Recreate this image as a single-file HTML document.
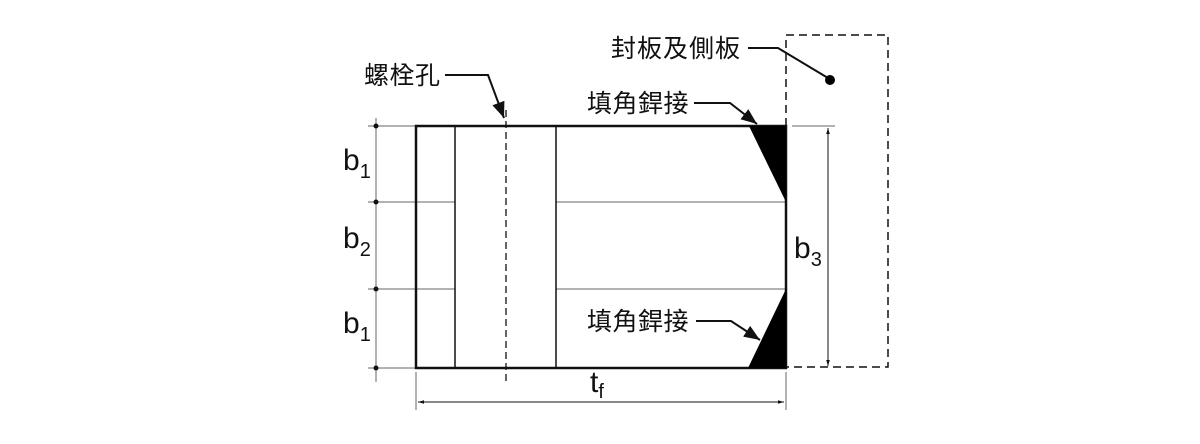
<!DOCTYPE html>
<html><head><meta charset="utf-8"><style>
body{margin:0;background:#fff}
svg{display:block}
text{font-family:"Liberation Sans","Noto Sans CJK TC",sans-serif;fill:#111}
</style></head><body>
<svg width="1200" height="444" viewBox="0 0 1200 444" xmlns="http://www.w3.org/2000/svg">
<defs>
<marker id="a" viewBox="0 0 10 10" refX="10" refY="5" markerWidth="8" markerHeight="8" orient="auto-start-reverse"><path d="M0,1 L10,5 L0,9 z" fill="#111"/></marker>
<marker id="s" viewBox="0 0 10 10" refX="10" refY="5" markerWidth="6" markerHeight="6" orient="auto-start-reverse"><path d="M0,2 L10,5 L0,8 z" fill="#111"/></marker>
</defs>
<g stroke="#666" stroke-width="1">
<line x1="368" y1="126" x2="416" y2="126"/><line x1="368" y1="202" x2="455" y2="202"/><line x1="556" y1="202" x2="786" y2="202"/>
<line x1="368" y1="289" x2="455" y2="289"/><line x1="556" y1="289" x2="786" y2="289"/><line x1="368" y1="368" x2="416" y2="368"/>
<line x1="376" y1="118" x2="376" y2="382"/>
<line x1="416" y1="372" x2="416" y2="410"/><line x1="786" y1="372" x2="786" y2="410"/>
<line x1="792" y1="126" x2="835" y2="126"/>
</g>
<g fill="#111"><circle cx="376" cy="126" r="2.5"/><circle cx="376" cy="202" r="2.5"/><circle cx="376" cy="289" r="2.5"/><circle cx="376" cy="368" r="2.5"/></g>
<rect x="416" y="126" width="370" height="242" fill="none" stroke="#111" stroke-width="2.5"/>
<line x1="455" y1="126" x2="455" y2="368" stroke="#111" stroke-width="1.5"/>
<line x1="556" y1="126" x2="556" y2="368" stroke="#111" stroke-width="1.5"/>
<line x1="506" y1="110" x2="506" y2="382" stroke="#111" stroke-width="1.3" stroke-dasharray="7,4"/>
<polygon points="749,126 786,126 786,202" fill="#000"/>
<polygon points="786,289 786,368 748,368" fill="#000"/>
<path d="M786,126 V35 H888 V367 H786" fill="none" stroke="#111" stroke-width="1.5" stroke-dasharray="8,5"/>
<line x1="828" y1="128" x2="828" y2="366" stroke="#111" stroke-width="1" marker-start="url(#s)" marker-end="url(#s)"/>
<line x1="418" y1="402" x2="784" y2="402" stroke="#111" stroke-width="1" marker-start="url(#s)" marker-end="url(#s)"/>
<g fill="none" stroke="#111" stroke-width="2">
<polyline points="748,48 778,48 828,78"/>
<polyline points="445,75 488,75 504,118" marker-end="url(#a)"/>
<polyline points="694,103 730,103 757,124" marker-end="url(#a)"/>
<polyline points="696,321 731,321 760,340" marker-end="url(#a)"/>
</g>
<circle cx="830" cy="80" r="5" fill="#000"/>
<g font-size="25" letter-spacing="0.5">
<text x="611" y="57" letter-spacing="1">封板及側板</text>
<text x="364" y="84">螺栓孔</text>
<text x="587" y="112">填角銲接</text>
<text x="587" y="330">填角銲接</text>
</g>
<g font-size="30">
<text x="343" y="170">b<tspan font-size="20" dy="8">1</tspan></text>
<text x="343" y="248">b<tspan font-size="20" dy="8">2</tspan></text>
<text x="343" y="333">b<tspan font-size="20" dy="8">1</tspan></text>
<text x="794" y="258">b<tspan font-size="20" dy="8">3</tspan></text>
<text x="590" y="392">t<tspan font-size="20" dy="6">f</tspan></text>
</g>
</svg>
</body></html>
